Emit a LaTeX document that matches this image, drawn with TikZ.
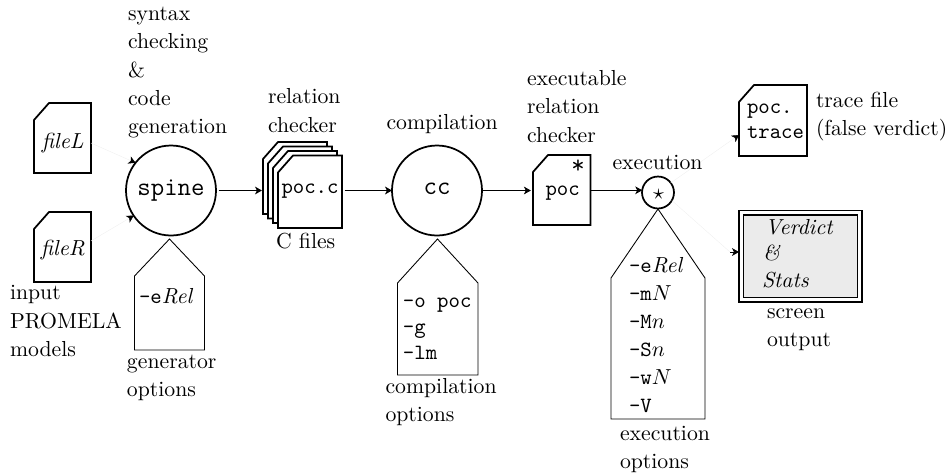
\documentclass[tikz,border=0pt]{standalone}
\usetikzlibrary{arrows.meta,calc}
\tikzset{
  lbl/.style={anchor=base west,inner sep=0pt,outer sep=0pt},
  thickline/.style={draw=black,line width=0.8pt,line join=miter},
  thinline/.style={draw=black,line width=0.4pt},
  proc/.style={circle,draw=black,line width=0.8pt,inner sep=0pt,outer sep=0pt,fill=white},
  tip/.style={-{Stealth[length=3.2pt,width=3.6pt,inset=0.9pt,color=black]}},
  flow/.style={tip,draw=black,line width=0.4pt},
  faintflow/.style={tip,draw=black!6,line width=0.2pt},
  faintline/.style={draw=black!6,line width=0.2pt},
  anchorbox/.style={rectangle,inner sep=0pt,outer sep=0pt},
}
\newcommand\lb[4]{\node[lbl] (#1) at (#2,#3) {#4};}
\newcommand\filebox[5]{%
  \draw[thickline,fill=white] (#2,{#3+17}) -- ({#2+15},#3) -- (#4,#3) -- (#4,#5) -- (#2,#5) -- cycle;
  \node[anchorbox,minimum width={(#4-#2)*0.46pt},minimum height={(#5-#3)*0.46pt}] (#1) at ({(#2+#4)/2},{(#3+#5)/2}) {};}
\newcommand\pentagon[6]{% x0 x1 apexx apexy shoulder bottom
  \draw[thinline] (#1,#5) -- (#3,#4) -- (#2,#5) -- (#2,#6) -- (#1,#6) -- cycle;}
\begin{document}
\begin{tikzpicture}[x=0.46pt,y=-0.46pt]
\useasboundingbox (0,0) rectangle (949,475);
% files
\filebox{fileLbox}{34}{103}{91}{173}
\filebox{fileRbox}{34}{212}{91}{282}
\node[lbl] (fileLt) at (42,148) {\textit{fileL}};
\node[lbl] (fileRt) at (41,255) {\textit{fileR}};
% processes
\node[proc,minimum size=41.4pt] (spine) at (171,190.5) {\raisebox{1.4pt}{\large\texttt{spine}}};
\node[proc,minimum size=41.4pt] (cc) at (437,190.5) {\raisebox{1.4pt}{\large\texttt{cc}}};
\node[proc,minimum size=14.7pt] (exec) at (658,192.5) {};
\node[lbl] (execstar) at (653,199.5) {$\star$};
% stack
\filebox{s1}{263}{142}{327}{214}
\filebox{s2}{268}{146.5}{332}{218.5}
\filebox{s3}{273}{151}{337}{223}
\filebox{s4}{278}{155.5}{342}{228}
\lb{pocc}{281.5}{193}{\texttt{poc.c}}
% poc
\filebox{pocbox}{533}{155}{590.5}{225}
\lb{poct}{545.5}{195}{\texttt{poc}}
\node[inner sep=0pt] (pocstar) at (578,167) {\large\texttt{*}};
% trace
\filebox{tracebox}{739}{85}{807}{156}
\lb{tr1}{747}{113}{\texttt{poc.}}
\lb{tr2}{747}{138}{\texttt{trace}}
% verdict
\draw[draw=black,line width=0.8pt] (739,210.5) rectangle (862,302);
\draw[draw=black,line width=0.8pt,fill=black!8] (743.5,215) rectangle (857.5,297.5);
\node[anchorbox,minimum width=56.6pt,minimum height=42.1pt] (verdict) at (800.5,256) {};
\coordinate (verdictstub) at (730,252);
\lb{v1}{765}{234}{\textit{Verdict}}
\lb{v2}{763}{260}{\textit{\&}}
\lb{v3}{762}{287}{\textit{Stats}}
% option pentagons
\pentagon{134.5}{204.5}{169.5}{239}{276}{350}
\lb{o1}{139}{303}{\texttt{-e}$\mathit{Rel}$}
\pentagon{397.5}{478}{437.5}{239}{283}{375}
\lb{c1}{403}{307}{\texttt{-o poc}}
\lb{c2}{403}{333}{\texttt{-g}}
\lb{c3}{403}{359}{\texttt{-lm}}
\pentagon{611}{705}{658}{209}{278}{419}
\lb{e1}{629}{272}{\texttt{-e}$\mathit{Rel}$}
\lb{e2}{629}{300}{\texttt{-m}$N$}
\lb{e3}{629}{328}{\texttt{-M}$n$}
\lb{e4}{629}{356}{\texttt{-S}$n$}
\lb{e5}{629}{384}{\texttt{-w}$N$}
\lb{e6}{629}{412}{\texttt{-V}}
% connectors
\draw[faintflow] (fileLbox.-10) -- (spine.142);
\draw[faintflow] (fileRbox.12) -- (spine.214);
\draw[flow,shorten <=1.2pt,shorten >=0.5pt] (spine.east) -- (spine.east -| s1.west);
\draw[flow,shorten <=1.2pt] (cc.west -| s4.east) -- (cc.west);
\draw[flow,shorten <=0.5pt,shorten >=1pt] (cc.east) -- (cc.east -| pocbox.west);
\draw[flow] (exec.172 -| pocbox.east) -- (exec.172);
\draw[faintflow] (exec.37) -- (tracebox.203);
\draw[faintline] (exec.-30) -- (verdictstub);
\draw[flow] (verdictstub) -- (verdictstub -| verdict.west);
% labels
\lb{t1}{128}{20}{syntax}
\lb{t2}{128}{48}{checking}
\lb{t3}{128}{77}{\&}
\lb{t4}{128}{105}{code}
\lb{t5}{128}{133}{generation}
\lb{t6}{268}{103}{relation}
\lb{t7}{268}{132}{checker}
\lb{t8}{276}{248}{C files}
\lb{t9}{386.5}{129}{compilation}
\lb{t10}{527}{85}{executable}
\lb{t11}{527}{113}{relation}
\lb{t12}{527}{142}{checker}
\lb{t13}{612.5}{169}{execution}
\lb{t14}{816}{107}{trace file}
\lb{t15}{816}{135}{(false verdict)}
\lb{t16}{10}{299}{input}
\lb{t17}{10}{328}{PROMELA}
\lb{t18}{10}{356}{models}
\lb{t19}{127}{368}{generator}
\lb{t20}{127}{396}{options}
\lb{t21}{385.5}{393}{compilation}
\lb{t22}{385.5}{421}{options}
\lb{t23}{620}{440}{execution}
\lb{t24}{620}{468}{options}
\lb{t25}{767}{318}{screen}
\lb{t26}{767}{346}{output}
\end{tikzpicture}
\end{document}
